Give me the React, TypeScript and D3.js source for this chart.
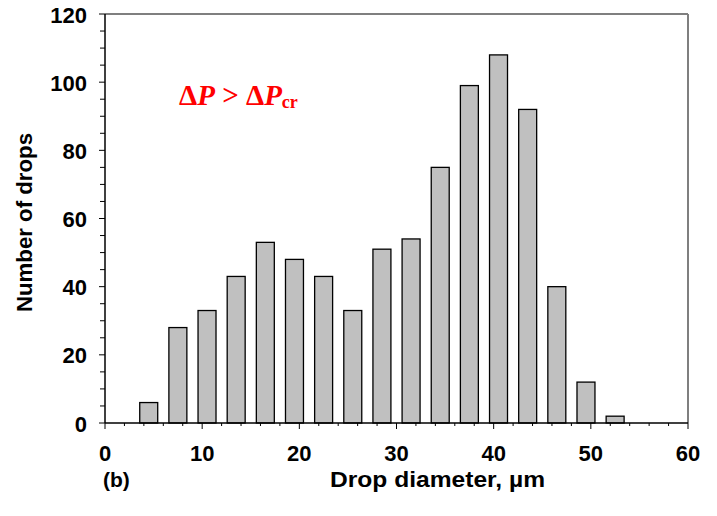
import React from "react";
import * as d3 from "d3";

const binCenters = [4.5, 7.5, 10.5, 13.5, 16.5, 19.5, 22.5, 25.5, 28.5, 31.5, 34.5, 37.5, 40.5, 43.5, 46.5, 49.5, 52.5];
const counts = [6, 28, 33, 43, 53, 48, 43, 33, 51, 54, 75, 99, 108, 92, 40, 12, 2];
const xMajorTicks = [0, 10, 20, 30, 40, 50, 60];
const yMajorTicks = [0, 20, 40, 60, 80, 100, 120];

const W = 717;
const H = 516;
const left = 105, right = 688, top = 14, bottom = 423;

export default function App() {
  const x = d3.scaleLinear().domain([0, 60]).range([left, right]);
  const y = d3.scaleLinear().domain([0, 120]).range([bottom, top]);
  const barHalf = 0.925;
  const xMinor = d3.range(0, 60.001, 2);
  const yMinor = d3.range(0, 120.001, 5);
  const font = "'Liberation Sans', Arial, sans-serif";

  return (
    <svg width={W} height={H} style={{ position: "absolute", left: 0, top: 0, background: "#fff" }}>
      <line x1={left} x2={right} y1={top} y2={top} stroke="#7f7f7f" strokeWidth={2} />
      <line x1={right} x2={right} y1={top} y2={bottom} stroke="#7f7f7f" strokeWidth={2} />
      {binCenters.map((c, i) => (
        <rect
          key={i}
          x={x(c - barHalf)}
          y={y(counts[i])}
          width={x(c + barHalf) - x(c - barHalf)}
          height={y(0) - y(counts[i])}
          fill="#c0c0c0"
          stroke="#000"
          strokeWidth={1.3}
        />
      ))}
      <line x1={left} x2={right} y1={bottom} y2={bottom} stroke="#000" strokeWidth={1.5} />
      <line x1={left} x2={left} y1={top} y2={bottom} stroke="#000" strokeWidth={1.5} />
      {xMinor.map((t) => (
        <line key={"xm" + t} x1={x(t)} x2={x(t)} y1={bottom} y2={bottom + (t % 10 === 0 ? 6 : 3)} stroke="#000" strokeWidth={1} />
      ))}
      {yMinor.map((t) => (
        <line key={"ym" + t} x1={left - (t % 20 === 0 ? 6 : 5)} x2={left} y1={y(t)} y2={y(t)} stroke="#000" strokeWidth={1} />
      ))}
      {xMajorTicks.map((t) => (
        <text key={"xl" + t} x={x(t)} y={461} textAnchor="middle" fontFamily={font} fontWeight="bold" fontSize={22}>
          {t}
        </text>
      ))}
      {yMajorTicks.map((t) => (
        <text key={"yl" + t} x={87} y={y(t) + 8.5} textAnchor="end" fontFamily={font} fontWeight="bold" fontSize={22}>
          {t}
        </text>
      ))}
      <text
        transform={`translate(32,222.5) rotate(-90)`}
        textAnchor="middle"
        fontFamily={font}
        fontWeight="bold"
        fontSize={22}
        textLength={179}
        lengthAdjust="spacingAndGlyphs"
      >
        Number of drops
      </text>
      <text x={437.5} y={487} textAnchor="middle" fontFamily={font} fontWeight="bold" fontSize={22} textLength={215} lengthAdjust="spacingAndGlyphs">
        Drop diameter, µm
      </text>
      <text x={103} y={487} fontFamily={font} fontWeight="bold" fontSize={21}>
        (b)
      </text>
      <text x={179} y={105} fill="#ff0000" fontFamily="'Liberation Serif', 'Times New Roman', serif" fontWeight="bold" fontSize={29}>
        <tspan>Δ</tspan>
        <tspan fontStyle="italic">P</tspan>
        <tspan> &gt; Δ</tspan>
        <tspan fontStyle="italic">P</tspan>
        <tspan fontSize={18} dy={3}>cr</tspan>
      </text>
    </svg>
  );
}
